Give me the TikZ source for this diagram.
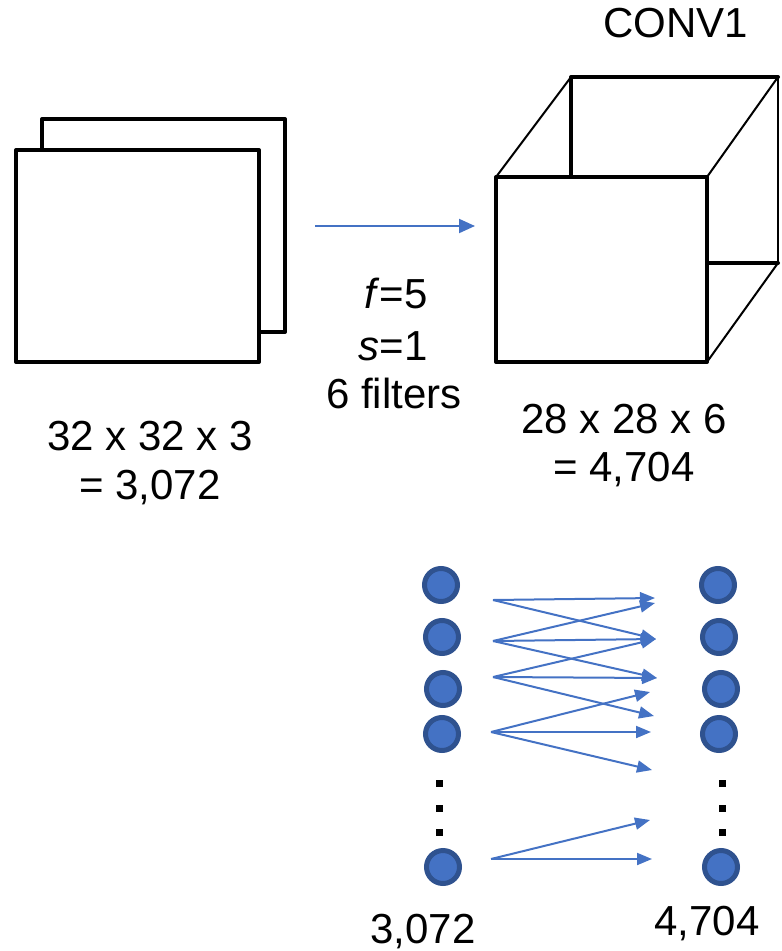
\documentclass[tikz,border=0pt]{standalone}
\usepackage{fontspec}
\setmainfont{Liberation Sans}
\usetikzlibrary{arrows.meta}
\definecolor{nodeblue}{HTML}{4472C4}
\definecolor{nodeedge}{HTML}{2F528F}
\tikzset{
  lbl/.style={anchor=base, inner sep=0pt, font=\fontsize{42}{50}\selectfont},
  thick edge/.style={line width=4pt, line join=round, line cap=round},
  thin edge/.style={line width=2pt, line cap=round},
  neuron/.style={circle, fill=nodeblue, draw=nodeedge, line width=5pt,
    minimum size=33pt, inner sep=0pt},
  wire/.style={draw=nodeblue, line width=2pt,
    -{Triangle[length=15pt,width=12pt]}},
  ellip/.style={fill=black, minimum size=7pt, inner sep=0pt},
}
\begin{document}
\begin{tikzpicture}[x=1pt, y=-1pt]
\useasboundingbox (0,0) rectangle (782,951);

% input volume: two stacked sheets
\draw[thick edge, fill=white] (42,119) rectangle (285,332);
\draw[thick edge, fill=white] (16,150) rectangle (259,362);
\node[lbl] (inA) at (150,450) {32 x 32 x 3};
\node[lbl] (inB) at (150,499) {= 3,072};

% convolution step
\coordinate (cs) at (315,226);
\coordinate (ce) at (475,226);
\draw[nodeblue, line width=2pt, -{Triangle[length=16pt,width=14pt]}] (cs) -- (ce);
\node[lbl] (pf) at (396,308) {\textit{f}=5};
\node[lbl] (ps) at (393,360) {\textit{s}=1};
\node[lbl] (pn) at (394,408) {6 filters};

% output volume drawn as a box
\draw[thick edge] (707,263) -- (778,263);
\draw[thick edge] (571,177) -- (571,77) -- (778,77);
\draw[thin edge] (778,77) -- (778,263);
\draw[thin edge] (496,177) -- (571,77);
\draw[thin edge] (707,177) -- (778,77);
\draw[thin edge] (707,362) -- (778,263);
\draw[thick edge, fill=white] (496,177) rectangle (707,362);
\node[lbl] (conv) at (676,37) {CONV1};
\node[lbl] (outA) at (624,433) {28 x 28 x 6};
\node[lbl] (outB) at (624,481) {= 4,704};

% input neurons
\node[neuron] (l1) at (441,585) {};
\node[neuron] (l2) at (442,637) {};
\node[neuron] (l3) at (443,689) {};
\node[neuron] (l4) at (442,734) {};
\node[neuron] (l5) at (443,867) {};
% output neurons
\node[neuron] (r1) at (718,585) {};
\node[neuron] (r2) at (719,637) {};
\node[neuron] (r3) at (721,689) {};
\node[neuron] (r4) at (719,734) {};
\node[neuron] (r5) at (721,867) {};

% vertical ellipses
\foreach \yy [count=\i] in {783,808,832} {
  \node[ellip] (ld\i) at (439,\yy) {};
  \node[ellip] (rd\i) at (722,\yy) {};
}

\node[lbl] (nin) at (423,943) {3,072};
\node[lbl] (nout) at (707,935) {4,704};

% connection tails and heads
\coordinate (t1) at (493,600);
\coordinate (t2) at (493,641);
\coordinate (t3) at (493,677);
\coordinate (t4) at (491,732);
\coordinate (t5) at (491,859);
\coordinate (h1) at (655,598);
\coordinate (h1b) at (655,603);
\coordinate (h2) at (656,639);
\coordinate (h3) at (657,678);
\coordinate (h4) at (654,716);
\coordinate (h5) at (650,692);
\coordinate (h6) at (651,732);
\coordinate (h7) at (652,770);
\coordinate (h8) at (650,820);
\coordinate (h9) at (652,859);

\draw[wire] (t1) -- (h1);
\draw[wire] (t1) -- (h2);
\draw[wire] (t2) -- (h1b);
\draw[wire] (t2) -- (h2);
\draw[wire] (t2) -- (h3);
\draw[wire] (t3) -- (h2);
\draw[wire] (t3) -- (h3);
\draw[wire] (t3) -- (h4);
\draw[wire] (t4) -- (h5);
\draw[wire] (t4) -- (h6);
\draw[wire] (t4) -- (h7);
\draw[wire] (t5) -- (h8);
\draw[wire] (t5) -- (h9);
\end{tikzpicture}
\end{document}
